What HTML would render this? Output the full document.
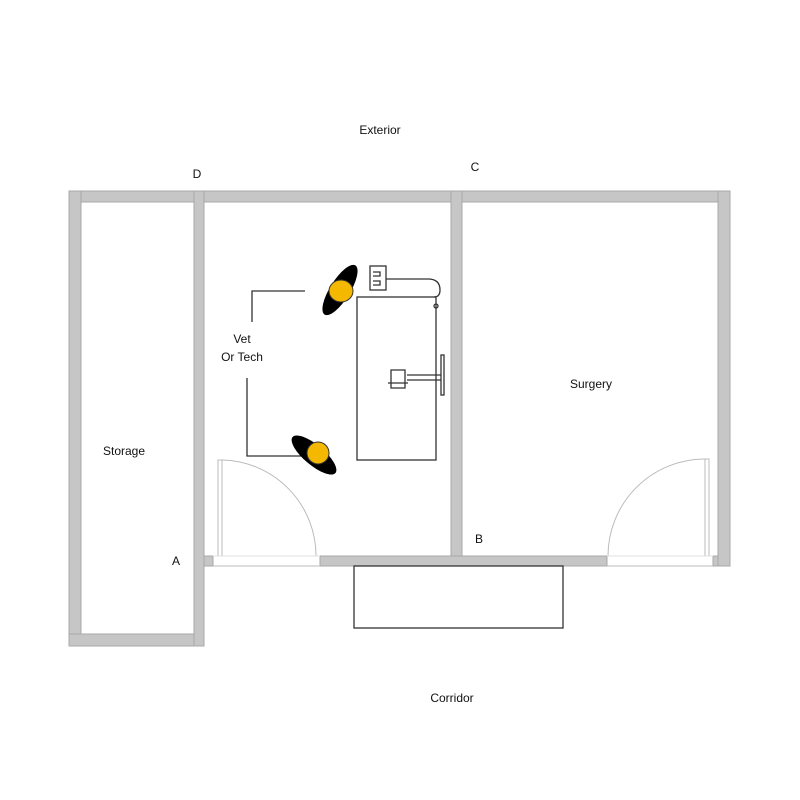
<!DOCTYPE html>
<html><head><style>body{margin:0;background:#fff}svg{display:block}text{font-family:"Liberation Sans",sans-serif;font-size:12px;fill:#111}</style></head>
<body>
<svg width="800" height="800" viewBox="0 0 800 800">
<g fill="#c6c6c6" stroke="#a8a8a8" stroke-width="1">
<rect x="69" y="191" width="661" height="11"/>
<rect x="69" y="191" width="12" height="455"/>
<rect x="69" y="634" width="135" height="12"/>
<rect x="194" y="191" width="10" height="455"/>
<rect x="451" y="191" width="11" height="375"/>
<rect x="718" y="191" width="12" height="375"/>
<rect x="204" y="556" width="9" height="10"/>
<rect x="320" y="556" width="287" height="10"/>
<rect x="713" y="556" width="5" height="10"/>
</g>
<g fill="#fff" stroke="none">
<rect x="82" y="203" width="111" height="430"/>
<rect x="205" y="203" width="245" height="352"/>
<rect x="463" y="203" width="254" height="352"/>
</g>
<g fill="none" stroke="#bbb" stroke-width="1">
<rect x="218" y="460" width="4" height="96"/>
<path d="M222 460 A96 96 0 0 1 316 556"/>
<line x1="213" y1="556" x2="320" y2="556" stroke="#e0e0e0"/>
<line x1="213" y1="566" x2="320" y2="566"/>
<rect x="705" y="459" width="4" height="97"/>
<path d="M705 459 A97 97 0 0 0 608 556"/>
<line x1="607" y1="556" x2="713" y2="556" stroke="#e0e0e0"/>
<line x1="607" y1="566" x2="713" y2="566"/>
</g>
<g fill="none" stroke="#333" stroke-width="1.3">
<rect x="357" y="297" width="79" height="163"/>
<rect x="354" y="566" width="209" height="62"/>
<polyline points="305,291 252,291 252,322"/>
<polyline points="247,378 247,456 302,456"/>
<rect x="370" y="266" width="16" height="24"/>
<path d="M373 272 h7 v4 h-7 M373 281 h7 v4 h-7"/>
<path d="M386 279 H428 Q440 279 440 290 Q440 297 434 297"/>
<circle cx="436" cy="306" r="2"/>
<rect x="441" y="355" width="3" height="40"/>
<path d="M407 375 H441 M407 380 H441"/>
<path d="M391 370 h14 v18 h-14 z M388 383 h20"/>
</g>
<g>
<ellipse cx="340" cy="290" rx="10" ry="29" transform="rotate(32 340 290)" fill="#000"/>
<ellipse cx="341" cy="291" rx="12" ry="11" fill="#f5b800" stroke="#333"/>
<ellipse cx="314" cy="455" rx="10" ry="28" transform="rotate(-50 314 455)" fill="#000"/>
<circle cx="318" cy="453" r="11" fill="#f5b800" stroke="#333"/>
</g>
<text x="380" y="134" text-anchor="middle">Exterior</text>
<text x="197" y="178" text-anchor="middle">D</text>
<text x="475" y="171" text-anchor="middle">C</text>
<text x="242" y="343" text-anchor="middle">Vet</text>
<text x="242" y="361" text-anchor="middle">Or Tech</text>
<text x="124" y="455" text-anchor="middle">Storage</text>
<text x="591" y="388" text-anchor="middle">Surgery</text>
<text x="176" y="565" text-anchor="middle">A</text>
<text x="479" y="543" text-anchor="middle">B</text>
<text x="452" y="702" text-anchor="middle">Corridor</text>
</svg>
</body></html>
